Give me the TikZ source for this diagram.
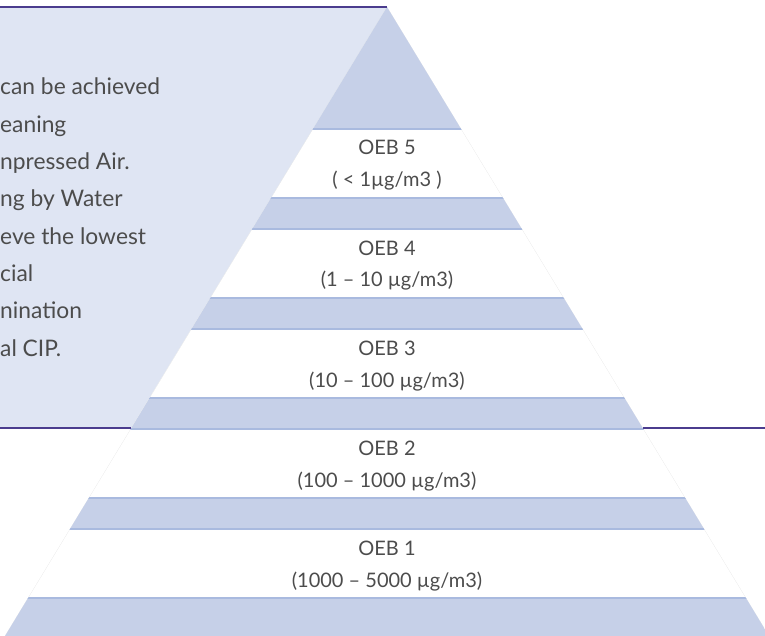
\documentclass[tikz,border=0pt]{standalone}
\usepackage{fontspec}
\setmainfont{Lato}
\definecolor{panel}{HTML}{DFE5F3}
\definecolor{band}{HTML}{C6D0E8}
\definecolor{bandedge}{HTML}{A9BADF}
\definecolor{rule}{HTML}{4B3C8E}
\definecolor{txt}{HTML}{4C4C4C}

\begin{document}
\begin{tikzpicture}[x=1pt,y=-1pt,
  oebtext/.style={anchor=base,inner sep=0pt,text=txt,font=\fontsize{20}{24}\selectfont},
  sidetext/.style={anchor=base west,inner sep=0pt,text=txt,font=\fontsize{22.8}{28}\selectfont}]
\useasboundingbox (0,0) rectangle (765,636);
% left panel
\fill[panel] (0,7) -- (387,7) -- (131,428) -- (0,428) -- cycle;
\draw[black!10,very thin] (387,7) -- (5,636) (387,7) -- (769,636);
% pyramid bands
\begin{scope}
	\clip (387,7) -- (5,636) -- (769,636) -- cycle;
	\fill[band] (0,7) rectangle (765,129);
	\draw[bandedge,line width=1.2pt] (0,129) -- (765,129);
	\foreach \y in {198,298,398,498}{
		\fill[band] (0,\y) rectangle (765,\y+31);
		\draw[bandedge,line width=1.2pt] (0,\y) -- (765,\y) (0,\y+31) -- (765,\y+31);
	}
	\fill[band] (0,598) rectangle (765,640);
	\draw[bandedge,line width=1.2pt] (0,598) -- (765,598);
\end{scope}
\draw[rule,line width=1.3pt] (0,7) -- (387,7);
\draw[rule,line width=1.3pt] (0,428) -- (131,428) (643,428) -- (765,428);
% levels
\foreach \n/\r [count=\i from 0] in {5/{( < 1µg/m3 )},4/{(1 – 10 µg/m3)},3/{(10 – 100 µg/m3)},2/{(100 – 1000 µg/m3)},1/{(1000 – 5000 µg/m3)}}{
	\node[oebtext] (oeb\n) at (387,155+100*\i) {OEB \n};
	\node[oebtext] (range\n) at (387,187+100*\i) {\r};
}
% side text
\foreach \t [count=\i from 0] in {can be achieved,eaning,npressed Air.,ng by Water,eve the lowest,cial,nination,al CIP.}
	\node[sidetext] (side\i) at (0,95+37.3*\i) {\t};
\end{tikzpicture}
\end{document}
